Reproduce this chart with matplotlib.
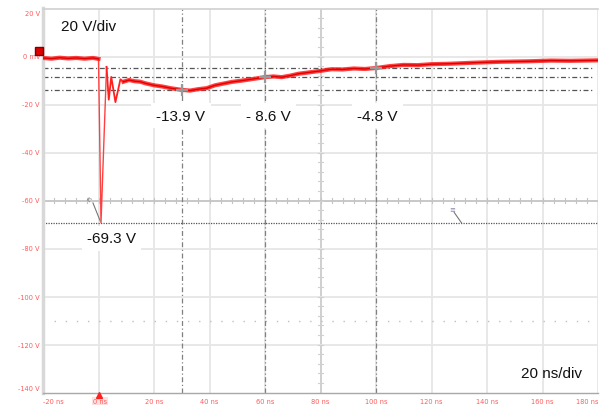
import matplotlib
matplotlib.use("Agg")
import matplotlib.pyplot as plt
import matplotlib.transforms as mtransforms

# --- data ---
# pre-trigger baseline (ns, V)
t_pre = [-20, -17, -14, -11, -8, -5, -2, 0]
v_pre = [-0.6, -0.9, -0.5, -0.8, -0.6, -0.9, -0.6, -1.0]

# fast negative spike
t_spike = [0, 0.9, 1.8, 2.9]
v_spike = [-1.0, -69.3, -40, -4.3]

# ringing just after the spike
t_ring = [2.9, 3.7, 4.6, 6.1, 7.9, 9]
v_ring = [-4.3, -18, -8.5, -19, -9.5, -10.5]

# slow recovery
t_post = [9, 11, 13, 15, 17, 20, 23, 26, 30, 33, 36, 39, 42, 45, 48, 52, 56,
          60, 63, 66, 69, 72, 76, 80, 84, 88, 92, 96, 100, 105, 110, 115, 120,
          127, 135, 145, 155, 163, 170, 180]
v_post = [-10.5, -9.8, -10.3, -10.5, -11.2, -12, -12.5, -13.2, -13.9, -14.2,
          -13.6, -13.2, -12.0, -11.3, -10.6, -10.0, -9.3, -8.6, -8.3, -8.6,
          -8.0, -7.2, -6.6, -6.0, -5.3, -5.4, -5.0, -5.2, -4.8, -4.0, -3.5,
          -3.6, -3.2, -3.0, -2.6, -2.2, -2.0, -1.7, -1.8, -1.6]

# cursors
cursor_t = [30, 60, 100]
cursor_v = [-13.9, -8.6, -4.8]
cursor_labels = ["-13.9 V", "- 8.6 V", "-4.8 V"]
peak_v = -69.3
peak_label = "-69.3 V"

x_ticks = list(range(-20, 181, 20))
x_tick_labels = [f"{t} ns" for t in x_ticks]
y_ticks = list(range(20, -141, -20))
y_tick_labels = ["0 mV" if v == 0 else f"{v} V" for v in y_ticks]

fig = plt.figure(figsize=(6.05, 4.10), dpi=100)
ax = fig.add_axes([43 / 605, 1 - 393.5 / 410, 555 / 605, 384 / 410])
ax.set_xlim(-20, 180)
ax.set_ylim(-140, 20)
ax.set_xticks([])
ax.set_yticks([])

ax.spines["right"].set_visible(False)
ax.spines["left"].set_color("#d8d8d8")
ax.spines["left"].set_linewidth(2.5)
ax.spines["top"].set_color("#d0d0d0")
ax.spines["top"].set_linewidth(1.2)
ax.spines["bottom"].set_color("#a8a8a8")
ax.spines["bottom"].set_linewidth(1.0)

# graticule
for t in x_ticks[1:]:
    col = "#cccccc" if t == 80 else "#e6e6e6"
    ax.axvline(t, color=col, lw=1.3, zorder=0)
for v in y_ticks[1:-1]:
    col = "#c4c4c4" if v == -60 else "#e6e6e6"
    ax.axhline(v, color=col, lw=1.3, zorder=0)
# minor ticks on centre lines
for t in range(-20, 181, 4):
    ax.plot([t, t], [-61.2, -58.8], color="#c4c4c4", lw=0.8, zorder=0)
for v in range(-140, 21, 4):
    ax.plot([79.0, 81.0], [v, v], color="#d0d0d0", lw=0.8, zorder=0)
ax.axhline(-110, color="#c0c0c0", lw=1.0, ls=(0, (1, 7)), zorder=0)

# cursor lines
dashdot = (0, (4, 2, 1, 2))
for t in cursor_t:
    ax.axvline(t, color="#808080", lw=0.9, ls=dashdot, zorder=1)
for v in cursor_v:
    ax.axhline(v, xmax=0.993, color="#555555", lw=0.9, ls=dashdot, zorder=1)
ax.axhline(peak_v, color="#555555", lw=0.9, ls=(0, (1, 1)), zorder=1)

# trace
ax.plot(t_spike, v_spike, color="#ff4040", lw=1.0, zorder=3)
ax.plot(t_ring, v_ring, color="#ff2020", lw=1.3, zorder=3)
for tt, vv in [(t_pre, v_pre), (t_post, v_post)]:
    ax.plot(tt, vv, color="#ff2020", lw=3.0, alpha=0.85, zorder=3)
    ax.plot(tt, vv, color="#e00000", lw=1.0, zorder=4)

# cursor crosses
ax.plot(cursor_t, cursor_v, ls="none", marker="+", ms=9, mew=1.6,
        color="#999999", zorder=5)

# ground marker of the channel
ax.plot([-21.4], [2.3], marker="s", ms=6, mfc="#e00000", mec="#800000",
        clip_on=False, zorder=6)

# trigger marker
ax.plot([0], [-141.2], marker="^", ms=4, color="#ff2020", clip_on=False, zorder=6)

# cursor tags
ax.text(-3.5, -59.5, "IC", fontsize=4, color="#666666", rotation=-35,
        ha="center", va="center", zorder=6)
ax.plot([-2.0, 0.6], [-61, -68.5], color="#777777", lw=0.8, zorder=6)
ax.text(127.5, -63.5, "\u2261", fontsize=5, color="#8080a0",
        ha="center", va="center", zorder=6)
ax.plot([128.2, 130.8], [-65, -69.3], color="#777777", lw=0.8, zorder=6)

# labels
box = dict(boxstyle="square,pad=0.35", fc="white", ec="none")
lab_font = dict(fontsize=11, color="#111111", family="Liberation Sans")
for t, lab in zip([29.7, 61.3, 100.4], cursor_labels):
    ax.text(t, -24.6, lab, ha="center", va="center", bbox=box, zorder=7, **lab_font)
ax.text(4.7, -75.8, peak_label, ha="center", va="center", bbox=box, zorder=7, **lab_font)
ax.text(-13.5, 12.9, "20 V/div", ha="left", va="center", zorder=7, **lab_font)
ax.text(163.3, -132, "20 ns/div", ha="center", va="center", zorder=7, **lab_font)

# tick labels
tick_font = dict(fontsize=4.8, color="#ff5a5a")
ytrans = mtransforms.blended_transform_factory(ax.transAxes, ax.transData)
for v, lab in zip(y_ticks, y_tick_labels):
    yoff = v
    if v == 20:
        yoff = 18
    elif v == -140:
        yoff = -138.2
    ax.text(-0.0055, yoff, lab, transform=ytrans, ha="right", va="center",
            clip_on=False, **tick_font)
xtrans = mtransforms.blended_transform_factory(ax.transData, ax.transAxes)
for t, lab in zip(x_ticks, x_tick_labels):
    ha = "center"
    if t == -20:
        ha = "left"
    elif t == 180:
        ha = "right"
    kw = {}
    if t == 0:
        kw["bbox"] = dict(boxstyle="square,pad=0.15", fc="#ffe0e0", ec="none")
    ax.text(t + 0.5 if t == 0 else t, -0.014, lab, transform=xtrans, ha=ha,
            va="top", clip_on=False, **tick_font, **kw)

fig.savefig("out.png", dpi=100)
